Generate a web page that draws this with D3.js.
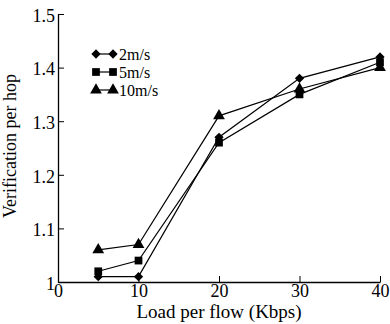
<!DOCTYPE html>
<html>
<head>
<meta charset="utf-8">
<script src="https://cdn.jsdelivr.net/npm/d3@7"></script>
<style>
  body { margin: 0; background: #fff; }
  text { font-family: 'Liberation Serif', 'Times New Roman', serif; fill: #000; }
</style>
</head>
<body>
<svg id="chart" width="390" height="324"></svg>
<script>
const loads = [5, 10, 20, 30, 40];
const speeds = ['2m/s', '5m/s', '10m/s'];
const v2 = [1.01, 1.01, 1.27, 1.38, 1.42];
const v5 = [1.02, 1.04, 1.26, 1.35, 1.41];
const v10 = [1.06, 1.07, 1.31, 1.36, 1.40];
const xTicks = [0, 10, 20, 30, 40];
const yTicks = [1, 1.1, 1.2, 1.3, 1.4, 1.5];

const series = [
    { name: speeds[0], values: v2, symbol: d3.symbolDiamond2, size: 55 },
    { name: speeds[1], values: v5, symbol: d3.symbolSquare, size: 60 },
    { name: speeds[2], values: v10, symbol: d3.symbolTriangle, size: 60 }
];

const margin = { top: 14, right: 10, bottom: 42, left: 58 };
const width = 390 - margin.left - margin.right;
const height = 324 - margin.top - margin.bottom;

const svg = d3.select('#chart')
    .append('g')
    .attr('transform', `translate(${margin.left},${margin.top})`);

const x = d3.scaleLinear().domain([0, 40]).range([0, 322]);
const y = d3.scaleLinear().domain([1, 1.5]).range([height, 0]);

// x axis, ticks pointing up
const xAxis = svg.append('g')
    .attr('transform', `translate(0,${height})`)
    .call(d3.axisBottom(x).tickValues(xTicks).tickSize(-6).tickPadding(2).tickSizeOuter(0).tickFormat(d3.format('d')));
xAxis.select('.domain').attr('stroke', '#000').attr('stroke-width', 1.3);
xAxis.selectAll('.tick text').style('font-size', '18px').attr('dy', '0.71em');

// y axis, ticks pointing right
const yAxis = svg.append('g')
    .call(d3.axisLeft(y).tickValues(yTicks).tickSize(-6).tickPadding(3).tickSizeOuter(0)
        .tickFormat(d => d === 1 ? '1' : d3.format('.1f')(d)));
yAxis.select('.domain').attr('stroke', '#000').attr('stroke-width', 1.3);
yAxis.selectAll('.tick text').style('font-size', '18px').attr('dy', '0.4em');

const line = d3.line()
    .x((d, i) => x(loads[i]))
    .y(d => y(d));

series.forEach(s => {
    svg.append('path')
        .datum(s.values)
        .attr('fill', 'none')
        .attr('stroke', '#000')
        .attr('stroke-width', 1.2)
        .attr('d', line);

    svg.selectAll(null)
        .data(s.values)
        .enter()
        .append('path')
            .attr('d', d3.symbol().type(s.symbol).size(s.size))
            .attr('transform', (d, i) => `translate(${x(loads[i])},${y(d)})`)
            .attr('fill', '#000');
});

// legend
const legend = svg.append('g').attr('transform', 'translate(38,40)');
series.forEach((s, i) => {
    const g = legend.append('g').attr('transform', `translate(0,${i * 18})`);
    g.append('line')
        .attr('x1', 0).attr('x2', 17)
        .attr('stroke', '#000').attr('stroke-width', 1.2);
    g.append('path').attr('d', d3.symbol().type(s.symbol).size(s.size)).attr('fill', '#000');
    g.append('path').attr('d', d3.symbol().type(s.symbol).size(s.size)).attr('transform', 'translate(17,0)').attr('fill', '#000');
    g.append('text')
        .attr('x', 23)
        .attr('dy', '0.35em')
        .style('font-size', '16px')
        .text(s.name);
});

// axis labels
svg.append('text')
    .attr('x', 161)
    .attr('y', height + 36)
    .attr('text-anchor', 'middle')
    .style('font-size', '19px')
    .text('Load per flow (Kbps)');

svg.append('text')
    .attr('transform', `translate(-42,${height / 2 - 2}) rotate(-90)`)
    .attr('text-anchor', 'middle')
    .style('font-size', '18px')
    .text('Verification per hop');
</script>
</body>
</html>
